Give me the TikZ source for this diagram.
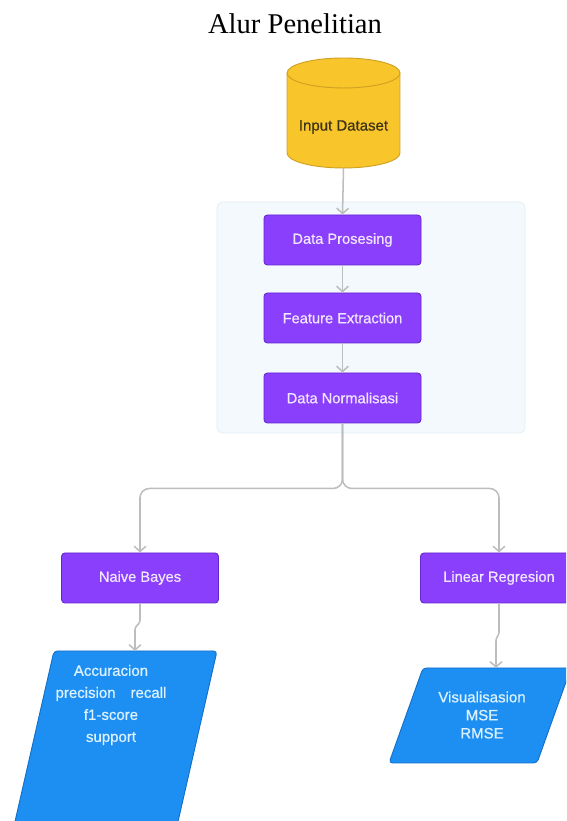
\documentclass[tikz,border=0pt]{standalone}
\usepackage{fontspec}
\setmainfont{Liberation Serif}
\setsansfont{Liberation Sans}
\newfontfamily\boxfont{Liberation Sans}[FakeBold=0.7]
\usepackage{tikz}
\usetikzlibrary{arrows.meta}
\definecolor{dbfill}{HTML}{F8C62A}
\definecolor{dbedge}{HTML}{CFA024}
\definecolor{dbtext}{HTML}{3D3318}
\definecolor{procfill}{HTML}{8A3FFC}
\definecolor{procedge}{HTML}{6428CC}
\definecolor{proctext}{HTML}{F1E6FF}
\definecolor{outfill}{HTML}{1E8FF2}
\definecolor{outedge}{HTML}{1270C8}
\definecolor{outtext}{HTML}{DDF2FF}
\definecolor{panelfill}{HTML}{F3F9FC}
\definecolor{paneledge}{HTML}{E2EEF5}
\definecolor{flowgrey}{HTML}{BDBDBD}
\tikzset{
  stepbox/.style={draw=procedge, fill=procfill, line width=0.8pt, rounded corners=3pt,
    minimum width=4.71cm, minimum height=1.5cm, text=proctext,
    font=\boxfont\fontsize{12.5}{15}\selectfont},
  flow/.style={draw=flowgrey, line width=1.3pt, -{Straight Barb[length=4.5pt,width=10pt]}},
  outshape/.style={fill=outfill, draw=outedge, line width=0.8pt, rounded corners=3pt},
  outlab/.style={text=outtext, align=center, font=\boxfont\fontsize{12.8}{18.8}\selectfont},
}

\begin{document}
\begin{tikzpicture}[x=0.03cm, y=0.03cm]
\path[use as bounding box, clip] (0,0) rectangle (566,821);

% Title
\node[font=\fontsize{24.4}{28}\selectfont] (title) at (295,797) {Alur Penelitian};

% Panel behind the steps
\draw[fill=panelfill, draw=paneledge, line width=0.6pt, rounded corners=5pt] (217,388) rectangle (525,619);

% Cylinder
\fill[dbfill] (287,668) rectangle (400,748);
\fill[dbfill] (343.5,668) ellipse (56.5 and 15);
\draw[dbedge, line width=0.8pt] (287,748) -- (287,668) arc (180:360:56.5 and 15) -- (400,748);
\draw[dbedge, fill=dbfill, line width=0.8pt] (343.5,748) ellipse (56.5 and 15);
\node[text=dbtext, font=\boxfont\fontsize{12.8}{15}\selectfont] (dataset) at (343.5,694) {Input Dataset};
\coordinate (dsbot) at (343.5,653);

% Steps
\node[stepbox] (prosesing) at (342.5,581) {Data Prosesing};
\node[stepbox] (extraction) at (342.5,503) {Feature Extraction};
\node[stepbox] (normalisasi) at (342.5,423) {Data Normalisasi};

% Models
\node[stepbox] (bayes) at (140,243) {Naive Bayes};
\node[stepbox] (regresion) at (499,243) {Linear Regresion};

% Outputs
\draw[outshape] (54,170) -- (217,170) -- (169,-40) -- (6,-40) -- cycle;
\node[outlab] (bayesout) at (111,116) {Accuracion\\precision\quad recall\\f1-score\\support};
\coordinate (bayesin) at (135,170);
\draw[outshape] (423,153) -- (571,153) -- (537,58) -- (389,58) -- cycle;
\node[outlab, font=\boxfont\fontsize{12.8}{15.4}\selectfont] (regout) at (482,106) {Visualisasion\\MSE\\RMSE};
\coordinate (regin) at (496,153);

% Connectors
\draw[flow] (dsbot) -- (prosesing.north);
\draw[flow] (prosesing.south) -- (extraction.north);
\draw[flow] (extraction.south) -- (normalisasi.north);
\draw[flow, rounded corners=8pt] (normalisasi.south) -- ++(0,-65) -| (bayes.north);
\draw[flow, rounded corners=8pt] (normalisasi.south) -- ++(0,-65) -| (regresion.north);
\draw[flow, rounded corners=2pt] (bayes.south) -- ++(0,-19) -- ++(-5,-5) -- (bayesin);
\draw[flow, rounded corners=2pt] (regresion.south) -- ++(0,-31) -- ++(-3,-4) -- (regin);
\end{tikzpicture}
\end{document}
